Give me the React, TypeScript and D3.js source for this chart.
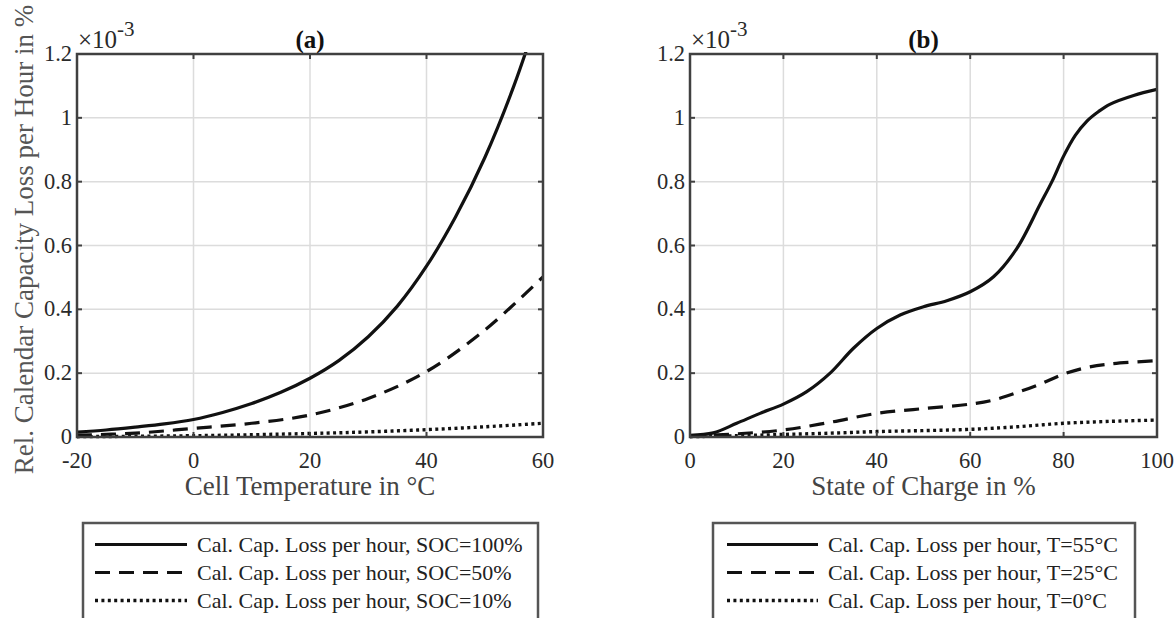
import React from "react";
import * as d3 from "d3";

// ---------- data (values in units of 1e-3 % per hour) ----------
const tempSolid = [-20, -15, -10, -5, 0, 5, 10, 15, 20, 25, 30, 35, 40, 45, 50, 55, 60];
const lossSoc100 = [0.015, 0.022, 0.031, 0.041, 0.055, 0.077, 0.105, 0.14, 0.184, 0.24, 0.314, 0.41, 0.535, 0.69, 0.875, 1.1, 1.37];
const tempDash = [-20, -10, 0, 10, 20, 30, 40, 50, 60];
const lossSoc50 = [0.006, 0.012, 0.027, 0.043, 0.069, 0.121, 0.205, 0.335, 0.502];
const tempDot = [-20, 0, 20, 30, 40, 50, 60];
const lossSoc10 = [0.001, 0.004, 0.011, 0.016, 0.023, 0.032, 0.043];

const socSolid = [0, 5, 10, 15, 20, 25, 30, 35, 40, 45, 50, 55, 60, 65, 70, 75, 77.5, 80, 82.5, 85, 87.5, 90, 95, 100];
const lossT55 = [0.005, 0.013, 0.043, 0.074, 0.103, 0.142, 0.2, 0.278, 0.34, 0.382, 0.408, 0.427, 0.455, 0.502, 0.591, 0.73, 0.8, 0.88, 0.945, 0.99, 1.02, 1.043, 1.07, 1.089];
const socDash = [0, 10, 20, 30, 40, 50, 60, 65, 70, 75, 80, 85, 90, 100];
const lossT25 = [0.002, 0.01, 0.022, 0.046, 0.074, 0.089, 0.103, 0.116, 0.139, 0.166, 0.197, 0.218, 0.229, 0.239];
const socDot = [0, 10, 20, 30, 40, 50, 60, 70, 80, 90, 100];
const lossT0 = [0.001, 0.004, 0.008, 0.012, 0.017, 0.02, 0.024, 0.032, 0.043, 0.049, 0.053];

const tempTicks = [-20, 0, 20, 40, 60];
const socTicks = [0, 20, 40, 60, 80, 100];
const yTicks = [0, 0.2, 0.4, 0.6, 0.8, 1, 1.2];

const legendA = [
  "Cal. Cap. Loss per hour, SOC=100%",
  "Cal. Cap. Loss per hour, SOC=50%",
  "Cal. Cap. Loss per hour, SOC=10%",
];
const legendB = [
  "Cal. Cap. Loss per hour, T=55°C",
  "Cal. Cap. Loss per hour, T=25°C",
  "Cal. Cap. Loss per hour, T=0°C",
];

const FONT = "'Liberation Serif', 'Times New Roman', serif";
const AXC = "#404040";
const GRID = "#dcdcdc";
const DASHES = [null, "15,9", "3,3.4"];

type Series = { x: number[]; y: number[] };

function Panel(props: {
  id: string;
  x0: number;
  x1: number;
  domain: [number, number];
  ticks: number[];
  series: Series[];
  title: string;
  xLabel: string;
  yLabel?: string;
  legend: string[];
  legX0: number;
  legX1: number;
  lineX0: number;
  lineX1: number;
  textX: number;
}) {
  const yTop = 54;
  const yBot = 437;
  const x = d3.scaleLinear().domain(props.domain).range([props.x0, props.x1]);
  const y = d3.scaleLinear().domain([0, 1.2]).range([yBot, yTop]);
  const line = d3
    .line<[number, number]>()
    .x((d) => x(d[0]))
    .y((d) => y(d[1]))
    .curve(d3.curveCatmullRom.alpha(0.5));
  const cx = (props.x0 + props.x1) / 2;
  const tl = 5;
  return (
    <g>
      <defs>
        <clipPath id={"clip" + props.id}>
          <rect x={props.x0} y={yTop - 2} width={props.x1 - props.x0} height={yBot - yTop + 4} />
        </clipPath>
      </defs>
      {/* grid */}
      {props.ticks.map((t) => (
        <line key={"gx" + t} x1={x(t)} x2={x(t)} y1={yTop} y2={yBot} stroke={GRID} strokeWidth={1.5} />
      ))}
      {yTicks.map((t) => (
        <line key={"gy" + t} x1={props.x0} x2={props.x1} y1={y(t)} y2={y(t)} stroke={GRID} strokeWidth={1.5} />
      ))}
      {/* series */}
      <g clipPath={`url(#clip${props.id})`}>
        {props.series.map((s, i) => (
          <path
            key={i}
            d={line(s.x.map((v, j) => [v, s.y[j]] as [number, number])) || ""}
            fill="none"
            stroke="#111"
            strokeWidth={i === 2 ? 3.4 : 3.2}
            strokeDasharray={DASHES[i] || undefined}
          />
        ))}
      </g>
      {/* ticks */}
      {props.ticks.map((t) => (
        <g key={"tx" + t}>
          <line x1={x(t)} x2={x(t)} y1={yBot} y2={yBot - tl} stroke={AXC} strokeWidth={2} />
          <line x1={x(t)} x2={x(t)} y1={yTop} y2={yTop + tl} stroke={AXC} strokeWidth={2} />
          <text x={x(t)} y={468} textAnchor="middle" fontFamily={FONT} fontSize={22.5} fill="#2a2a2a">
            {t}
          </text>
        </g>
      ))}
      {yTicks.map((t) => (
        <g key={"ty" + t}>
          <line x1={props.x0} x2={props.x0 + tl} y1={y(t)} y2={y(t)} stroke={AXC} strokeWidth={2} />
          <line x1={props.x1} x2={props.x1 - tl} y1={y(t)} y2={y(t)} stroke={AXC} strokeWidth={2} />
          <text x={props.x0 - 5} y={y(t) + 7} textAnchor="end" fontFamily={FONT} fontSize={22.5} fill="#2a2a2a">
            {d3.format("~g")(t)}
          </text>
        </g>
      ))}
      {/* box */}
      <rect x={props.x0} y={yTop} width={props.x1 - props.x0} height={yBot - yTop} fill="none" stroke={AXC} strokeWidth={2.5} />
      {/* exponent */}
      <text x={props.x0 + 1} y={48} fontFamily={FONT} fontSize={25} fill="#2a2a2a">
        ×10
        <tspan dy={-12} fontSize={21}>-3</tspan>
      </text>
      {/* title */}
      <text x={cx} y={48} textAnchor="middle" fontFamily={FONT} fontWeight="bold" fontSize={25} fill="#111">
        {props.title}
      </text>
      {/* x label */}
      <text x={cx} y={495} textAnchor="middle" fontFamily={FONT} fontSize={27} fill="#444">
        {props.xLabel}
      </text>
      {props.yLabel && (
        <text
          transform={`translate(33,${(yTop + yBot) / 2 - 6}) rotate(-90)`}
          textAnchor="middle"
          fontFamily={FONT}
          fontSize={27}
          fill="#555"
        >
          {props.yLabel}
        </text>
      )}
      {/* legend */}
      <rect x={props.legX0} y={523} width={props.legX1 - props.legX0} height={120} fill="#fff" stroke="#555" strokeWidth={2.5} />
      {props.legend.map((lab, i) => {
        const by = 552 + i * 28;
        return (
          <g key={"lg" + i}>
            <line
              x1={props.lineX0}
              x2={props.lineX1}
              y1={by - 7.5}
              y2={by - 7.5}
              stroke="#111"
              strokeWidth={i === 2 ? 3.4 : 3.2}
              strokeDasharray={DASHES[i] || undefined}
            />
            <text x={props.textX} y={by} fontFamily={FONT} fontSize={22} fill="#222">
              {lab}
            </text>
          </g>
        );
      })}
    </g>
  );
}

export default function App() {
  return (
    <svg
      width={1176}
      height={618}
      viewBox="0 0 1176 618"
      style={{ position: "absolute", left: 0, top: 0, background: "#fff" }}
    >
      <rect x={0} y={0} width={1176} height={618} fill="#fff" />
      <Panel
        id="a"
        x0={77}
        x1={543}
        domain={[-20, 60]}
        ticks={tempTicks}
        series={[
          { x: tempSolid, y: lossSoc100 },
          { x: tempDash, y: lossSoc50 },
          { x: tempDot, y: lossSoc10 },
        ]}
        title="(a)"
        xLabel="Cell Temperature in °C"
        yLabel="Rel. Calendar Capacity Loss per Hour in %"
        legend={legendA}
        legX0={83}
        legX1={538}
        lineX0={95}
        lineX1={187}
        textX={197}
      />
      <Panel
        id="b"
        x0={690}
        x1={1157}
        domain={[0, 100]}
        ticks={socTicks}
        series={[
          { x: socSolid, y: lossT55 },
          { x: socDash, y: lossT25 },
          { x: socDot, y: lossT0 },
        ]}
        title="(b)"
        xLabel="State of Charge in %"
        legend={legendB}
        legX0={713}
        legX1={1135}
        lineX0={727}
        lineX1={818}
        textX={828}
      />
    </svg>
  );
}
